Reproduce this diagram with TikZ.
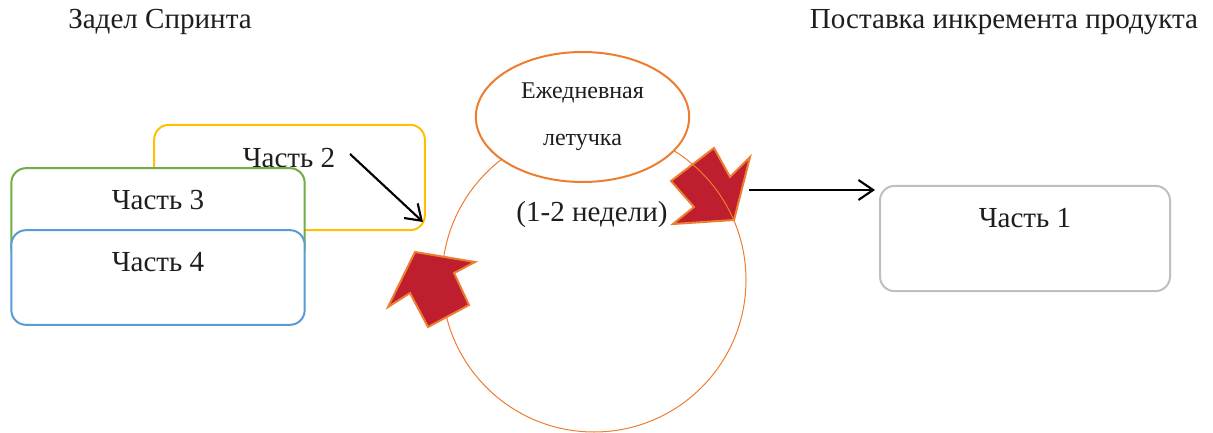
\documentclass[tikz,border=0pt]{standalone}
\usepackage{fontspec}
\setmainfont{Liberation Serif}
\usetikzlibrary{
  shapes.geometric,
  arrows.meta,
  positioning
}
\definecolor{PartYellow}{RGB}{255, 192, 0}
\definecolor{PartGreen}{RGB}{112, 173, 71}
\definecolor{PartBlue}{RGB}{91, 155, 213}
\definecolor{PartGray}{RGB}{191, 191, 191}
\definecolor{CycleOrange}{RGB}{237, 125, 49}
\definecolor{SprintRed}{RGB}{190, 30, 45}
\definecolor{InkGray}{RGB}{30, 30, 30}
\tikzset{
    partbox/.style={draw=#1, fill=white, line width=1.5pt, rounded corners=11pt,
        minimum width=220pt, minimum height=71pt, inner sep=0pt},
    parttext/.style={text=InkGray, font=\fontsize{21.8}{26}\selectfont, inner sep=0pt},
    turnarrow/.style={fill=SprintRed, draw=CycleOrange, line width=1.5pt, line join=miter},
    flowarrow/.style={draw=black, line width=1.6pt, -{Straight Barb[length=11pt, width=15pt, line width=1.6pt]}}
}

\begin{document}
\begin{tikzpicture}[x=0.75pt, y=-0.75pt]
    \useasboundingbox (0,0) rectangle (1213,432);

    \node[parttext] (backlog) at (160,22) {Задел Спринта};
    \node[parttext] (delivery) at (1004,22) {Поставка инкремента продукта};

    \node[partbox=PartYellow, minimum width=203pt, minimum height=79pt] (part2) at (289.5,177.5) {};
    \node[parttext] (part2text) at (289,158) {Часть 2};
    \node[partbox=PartGreen] (part3) at (158,215.5) {};
    \node[parttext] (part3text) at (158,200) {Часть 3};
    \node[partbox=PartBlue] (part4) at (158,277.5) {};
    \node[parttext] (part4text) at (158,262) {Часть 4};

    \coordinate (pickstart) at (350,154);
    \coordinate (pickend) at (423,222);
    \draw[flowarrow] (pickstart) -- (pickend);

    \draw[turnarrow] (714,148) -- (730,177) -- (750,157) -- (734,220)
        -- (673,224) -- (694,207) -- (671,181) -- cycle;

    \node[draw=CycleOrange, line width=0.75pt, circle, minimum size=228pt, inner sep=0pt] (sprint) at (594,280) {};

    \draw[turnarrow] (415,252) -- (475,262) -- (454,273) -- (469,305)
        -- (428,327) -- (410,293) -- (388,307) -- cycle;

    \node[ellipse, draw=CycleOrange, fill=white, line width=1.5pt, minimum width=160pt, minimum height=97.5pt,
        inner sep=0pt, align=center, text=InkGray, font=\fontsize{18}{35}\selectfont] (standup) at (582.5,117)
        {Ежедневная\\летучка};
    \node[parttext] (duration) at (592,215) {(1-2 недели)};

    \node[partbox=PartGray, minimum width=217.5pt, minimum height=79pt] (part1) at (1025,238.5) {};
    \node[parttext] (part1text) at (1025,218) {Часть 1};

    \coordinate (shipstart) at (749,190);
    \coordinate (shipend) at (875,190);
    \draw[flowarrow] (shipstart) -- (shipend);
\end{tikzpicture}
\end{document}
